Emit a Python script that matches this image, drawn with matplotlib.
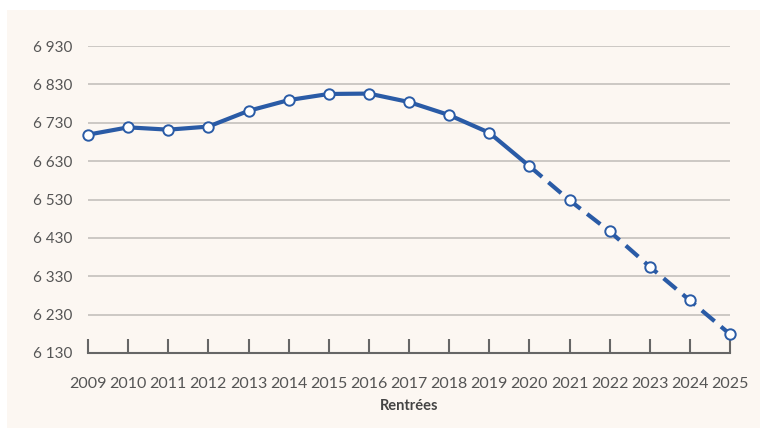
import matplotlib.pyplot as plt
from matplotlib.patches import Rectangle

# Effectifs (rentrées 2009 à 2025), constaté puis projeté
years = [2009, 2010, 2011, 2012, 2013, 2014, 2015, 2016, 2017,
         2018, 2019, 2020, 2021, 2022, 2023, 2024, 2025]
values = [6699, 6718, 6712, 6720, 6761, 6789, 6805, 6806, 6784,
          6750, 6704, 6617, 6528, 6447, 6355, 6267, 6179]
last_observed = 2020
yticks = [6130, 6230, 6330, 6430, 6530, 6630, 6730, 6830, 6930]

blue = '#2a5ba6'
grid_col = '#c9c5c1'
text_col = '#555555'

plt.rcParams['font.family'] = ['Lato', 'DejaVu Sans']

fig = plt.figure(figsize=(7.6, 4.28), dpi=100)
fig.patch.set_facecolor('white')
# cream panel behind the chart
fig.add_artist(Rectangle((7 / 760, 0), 1, 1 - 10 / 428, transform=fig.transFigure,
                         facecolor='#fcf7f2', edgecolor='none', zorder=-10))

ax = fig.add_axes([88 / 760, 1 - 353 / 428, (730 - 88) / 760, (353 - 46) / 428])
ax.set_facecolor('none')

i = years.index(last_observed)
ax.plot(years[:i + 1], values[:i + 1], color=blue, lw=3, zorder=3,
        solid_capstyle='round')
ax.plot(years[i:], values[i:], color=blue, lw=3, zorder=3,
        linestyle=(0, (4, 2)))
ax.plot(years, values, linestyle='none', marker='o', ms=7.5, mfc='white',
        mec=blue, mew=1.4, zorder=4, clip_on=False)

ax.set_xlim(2009, 2025)
ax.set_ylim(6130, 6930)
ax.set_yticks(yticks)
ax.set_yticklabels([f'{v:,}'.replace(',', ' ') for v in yticks])
ax.set_xticks(years)
ax.set_xticklabels([str(y) for y in years])

for v in yticks[1:]:
    ax.axhline(v, color=grid_col, lw=1.3, zorder=1)

for s in ['top', 'right', 'left']:
    ax.spines[s].set_visible(False)
ax.spines['bottom'].set_color('#666666')
ax.spines['bottom'].set_linewidth(1.5)

ax.tick_params(axis='y', length=0, pad=11, labelsize=11, labelcolor=text_col)
ax.tick_params(axis='x', direction='in', length=10, width=1.5, color='#666666',
               pad=17, labelsize=11.5, labelcolor=text_col)

ax.set_xlabel('Rentrées', fontsize=10.5, fontweight='bold', color='#444444', labelpad=6)

fig.savefig('out.png', dpi=100, facecolor=fig.get_facecolor())
